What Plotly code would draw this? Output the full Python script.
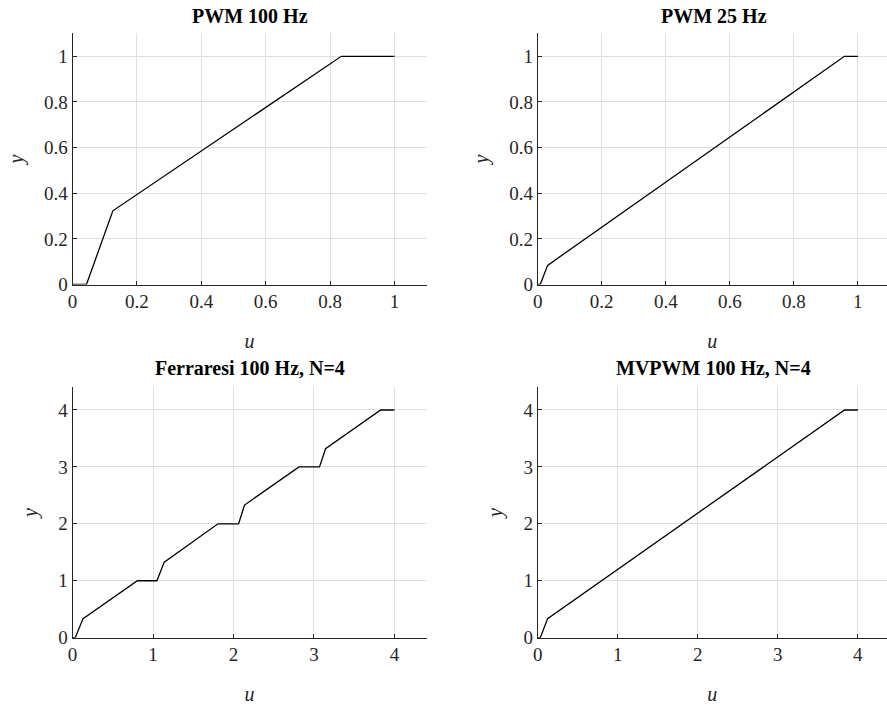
import plotly.graph_objects as go

# Data
u_pwm100 = [0, 0.043, 0.125, 0.835, 1.0]
y_pwm100 = [0, 0, 0.323, 1.0, 1.0]

u_pwm25 = [0, 0.008, 0.031, 0.958, 1.0]
y_pwm25 = [0, 0, 0.084, 1.0, 1.0]

u_ferr = [0, 0.033, 0.13, 0.805, 1.048, 1.139, 1.807, 2.063, 2.137, 2.814, 3.069, 3.144, 3.829, 4.0]
y_ferr = [0, 0, 0.335, 1.0, 1.0, 1.327, 2.0, 2.0, 2.33, 3.0, 3.0, 3.32, 4.0, 4.0]

u_mvpwm = [0, 0.033, 0.124, 3.834, 4.0]
y_mvpwm = [0, 0, 0.335, 4.0, 4.0]

ticks_unit = [0, 0.2, 0.4, 0.6, 0.8, 1]
ticklabels_unit = ["0", "0.2", "0.4", "0.6", "0.8", "1"]
ticks_four = [0, 1, 2, 3, 4]
ticklabels_four = ["0", "1", "2", "3", "4"]

titles = ["PWM 100 Hz", "PWM 25 Hz", "Ferraresi 100 Hz, N=4", "MVPWM 100 Hz, N=4"]

W, H = 887, 710
FONT = "Liberation Serif, Times New Roman, serif"
AX = "#262626"
GRID = "#dfdfdf"

fig = go.Figure()

series = [(u_pwm100, y_pwm100), (u_pwm25, y_pwm25), (u_ferr, y_ferr), (u_mvpwm, y_mvpwm)]
xdom_l = [68 / W, 424 / W]
xdom_r = [535.7 / W, 1.0]
ydom_t = [1 - 289 / H, 1 - 34 / H]
ydom_b = [1 - 647.7 / H, 1 - 393.3 / H]

specs = [
    (xdom_l, ydom_t, [0, 1.1], [0, 1.1], ticks_unit, ticklabels_unit),
    (xdom_r, ydom_t, [0, (887 - 535.7) / 322.0], [0, 1.1], ticks_unit, ticklabels_unit),
    (xdom_l, ydom_b, [0, 4.4], [0, 4.4], ticks_four, ticklabels_four),
    (xdom_r, ydom_b, [0, (887 - 535.7) / 80.5], [0, 4.4], ticks_four, ticklabels_four),
]

layout_axes = {}
for i, ((u, y), (xd, yd, xr, yr, tv, tt)) in enumerate(zip(series, specs)):
    n = "" if i == 0 else str(i + 1)
    fig.add_trace(go.Scatter(x=u, y=y, mode="lines", line=dict(color="black", width=1.3),
                             xaxis="x" + n, yaxis="y" + n, showlegend=False))
    layout_axes["xaxis" + n] = dict(domain=xd, range=xr, tickmode="array", tickvals=tv, ticktext=tt,
                                    anchor="y" + n,
                                    title=dict(text="<i>u</i>", font=dict(family=FONT, size=20, color=AX), standoff=22))
    layout_axes["yaxis" + n] = dict(domain=yd, range=yr, tickmode="array", tickvals=tv, ticktext=tt,
                                    anchor="x" + n,
                                    title=dict(text="<i>y</i>", font=dict(family=FONT, size=20, color=AX), standoff=15))

fig.update_layout(**layout_axes)
common = dict(showline=True, linecolor=AX, linewidth=1, showgrid=True, gridcolor=GRID,
              gridwidth=1, zeroline=False, ticks="inside", ticklen=4, tickcolor=AX,
              tickfont_family=FONT, tickfont_size=19, tickfont_color=AX)
fig.update_xaxes(**common)
fig.update_yaxes(**common)

title_pos = [(246 / W, 1 - 16 / H), (713 / W, 1 - 16 / H), (246 / W, 1 - 374 / H), (713 / W, 1 - 374 / H)]
for t, (x, y) in zip(titles, title_pos):
    fig.add_annotation(text="<b>" + t + "</b>", xref="paper", yref="paper", x=x, y=y,
                       xanchor="center", yanchor="middle", showarrow=False,
                       font=dict(family=FONT, size=20, color="black"))

fig.update_layout(width=W, height=H, margin=dict(l=0, r=0, t=0, b=0),
                  font=dict(family=FONT, size=19, color=AX),
                  paper_bgcolor="white", plot_bgcolor="white")

fig.write_html("out.html")
